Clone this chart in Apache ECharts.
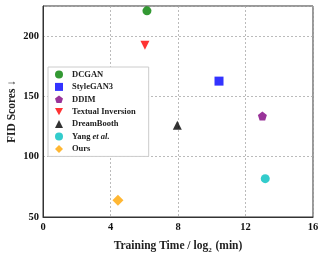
<!DOCTYPE html>
<html><head><meta charset="utf-8">
<script src="https://cdn.jsdelivr.net/npm/echarts@6/dist/echarts.min.js"></script>
<style>html,body{margin:0;padding:0;background:#fff}#c{width:331px;height:257px}</style>
</head><body><div id="c"></div>
<script>
const methods = ['DCGAN','StyleGAN3','DDIM','Textual Inversion','DreamBooth','Yang et al.','Ours'];
const trainingTime = [6.16, 10.43, 13.0, 6.04, 7.96, 13.17, 4.44];
const fidScores = [221, 162.7, 133.7, 192.5, 126, 81.8, 63.9];
const xTicks = [0,4,8,12,16];
const yTicks = [50,100,150,200];
const colors = ['#008000','#0000ff','#800080','#ff0000','#000000','#00bfbf','#ffa500'];
const pentagon = 'path://M0,-10 L9.51,-3.09 L5.88,8.09 L-5.88,8.09 L-9.51,-3.09 Z';
const triDown = 'path://M0,0 L10,0 L5,9 Z';
const symbols = ['circle','rect',pentagon,triDown,'triangle','circle','diamond'];
const sizes = [9,9,9,9,9,9,11];
const font = 'Liberation Serif';
const series = methods.map((m,i)=>({
  name: m, type:'scatter',
  symbol: symbols[i], symbolSize: sizes[i],
  itemStyle:{color:colors[i]},
  data:[[trainingTime[i], fidScores[i]]]
}));
const chart = echarts.init(document.getElementById('c'));
chart.setOption({
  animation:false,
  grid:{left:43,right:18,top:6,bottom:40,show:true,borderColor:'#333',borderWidth:1,
    containLabel:false,outerBoundsMode:'none'},
  xAxis:{type:'value',min:0,max:16,interval:4,
    name:'Training Time / log{s|2} (min)',nameLocation:'middle',nameGap:23,nameMoveOverlap:false,
    nameTextStyle:{fontFamily:font,fontWeight:'bold',fontSize:11.5,color:'#222',
      rich:{s:{fontFamily:font,fontWeight:'bold',fontSize:7,color:'#222',verticalAlign:'bottom',padding:[0,1,-2,0]}}},
    axisLine:{lineStyle:{color:'#333'}},
    axisTick:{show:false},
    axisLabel:{fontFamily:font,fontWeight:'bold',fontSize:10.5,color:'#111',margin:5},
    splitLine:{show:true,lineStyle:{type:[2,2],color:'#aaa',width:0.8}}},
  yAxis:{type:'value',min:50,max:225,interval:50,
    name:'FID Scores ↓',nameLocation:'middle',nameGap:25,nameMoveOverlap:false,
    nameTextStyle:{fontFamily:font,fontWeight:'bold',fontSize:11.5,color:'#222'},
    axisLine:{lineStyle:{color:'#333'}},
    axisTick:{show:false},
    axisLabel:{fontFamily:font,fontWeight:'bold',fontSize:10.5,color:'#111',margin:4,showMaxLabel:false,
      formatter:v=>yTicks.includes(v)?String(v):''},
    splitLine:{show:true,lineStyle:{type:[2,2],color:'#aaa',width:0.8}}},
  legend:{orient:'vertical',left:48,top:67,
    backgroundColor:'#fff',borderColor:'#ccc',borderWidth:1,
    padding:[3,13,3,7],itemGap:3.4,itemWidth:8,itemHeight:8,
    textStyle:{fontFamily:font,fontWeight:'bold',fontSize:8.5,color:'#222',padding:[0,0,0,4],
      rich:{i:{fontFamily:font,fontWeight:'bold',fontStyle:'italic',fontSize:8.5,color:'#222'},
            n:{fontFamily:font,fontWeight:'bold',fontSize:8.5,color:'#222'}}},
    formatter:n=> n==='Yang et al.' ? '{n|Yang }{i|et al.}' : n,
    data:methods},
  series
});
</script></body></html>
